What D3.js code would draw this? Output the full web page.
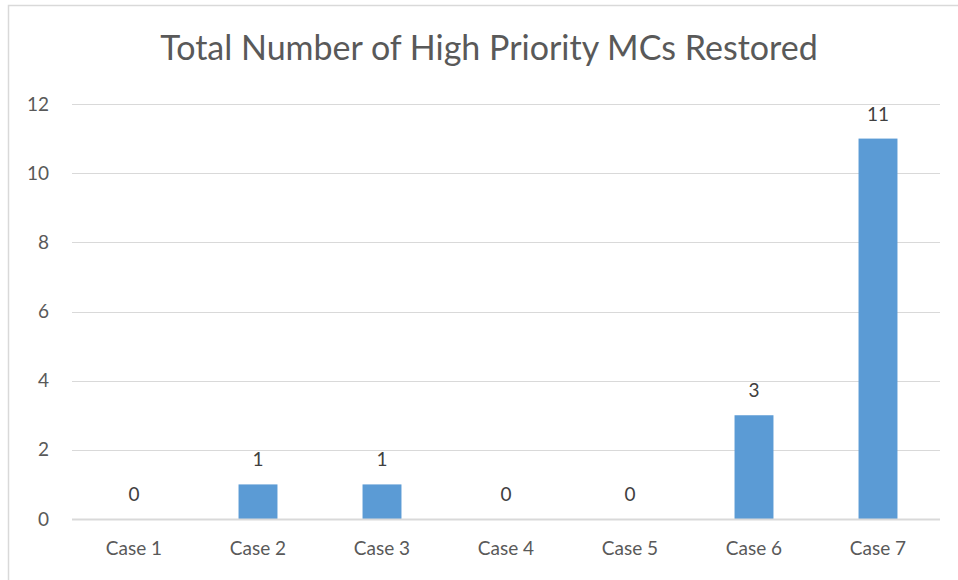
<!DOCTYPE html>
<html>
<head>
<meta charset="utf-8">
<script src="https://cdn.jsdelivr.net/npm/d3@7"></script>
<style>
  html, body { margin: 0; padding: 0; background: #fff; }
  svg { display: block; font-family: Lato, "Open Sans", sans-serif; }
</style>
</head>
<body>
<svg id="chart" width="958" height="580"></svg>
<script>
// Data
const categories = ["Case 1", "Case 2", "Case 3", "Case 4", "Case 5", "Case 6", "Case 7"];
const restored = [0, 1, 1, 0, 0, 3, 11];
const yTicks = [0, 2, 4, 6, 8, 10, 12];
const chartTitle = "Total Number of High Priority MCs Restored";

const svg = d3.select("#chart");
const W = 958, H = 580;
const plot = { left: 72, right: 940, top: 104, bottom: 519 };
const labelFont = "19px";

// Outer chart frame (top and left edges visible within the canvas)
svg.append("path")
  .attr("d", `M8.5,${H} L8.5,5.5 L${W},5.5`)
  .attr("fill", "none")
  .attr("stroke", "#d9d9d9")
  .attr("stroke-width", 1.5);

const x = d3.scaleBand()
  .domain(categories)
  .range([plot.left, plot.right])
  .paddingInner(0.686)
  .paddingOuter(0.343);

const y = d3.scaleLinear()
  .domain([0, 12])
  .range([plot.bottom, plot.top]);

// Horizontal gridlines
svg.append("g")
  .selectAll("line")
  .data(yTicks.filter(d => d !== 0))
  .join("line")
  .attr("x1", plot.left)
  .attr("x2", plot.right)
  .attr("y1", d => Math.round(y(d)) + 0.5)
  .attr("y2", d => Math.round(y(d)) + 0.5)
  .attr("stroke", "#d9d9d9")
  .attr("stroke-width", 1.2);

// Y axis labels
const yAxis = d3.axisLeft(y).tickValues(yTicks).tickSize(0).tickPadding(0);
const yg = svg.append("g")
  .attr("transform", `translate(${plot.left - 23},0)`)
  .call(yAxis);
yg.select(".domain").remove();
yg.selectAll("text")
  .attr("fill", "#595959")
  .style("font-size", labelFont)
  .style("font-family", "Lato, 'Open Sans', sans-serif");

// Bars
svg.append("g")
  .selectAll("rect")
  .data(restored)
  .join("rect")
  .attr("x", (d, i) => x(categories[i]))
  .attr("width", x.bandwidth())
  .attr("y", d => y(d))
  .attr("height", d => y(0) - y(d))
  .attr("fill", "#5b9bd5");

// Category axis
const xAxis = d3.axisBottom(x).tickSize(0).tickPadding(23);
const xg = svg.append("g")
  .attr("transform", `translate(0,${plot.bottom})`)
  .call(xAxis);
xg.select(".domain")
  .attr("d", `M${plot.left},0.5H${plot.right}`)
  .attr("stroke", "#d9d9d9")
  .attr("stroke-width", 2.2);
xg.selectAll("text")
  .attr("fill", "#595959")
  .style("font-size", labelFont)
  .style("font-family", "Lato, 'Open Sans', sans-serif");

// Value labels above bars
svg.append("g")
  .selectAll("text")
  .data(restored)
  .join("text")
  .attr("x", (d, i) => x(categories[i]) + x.bandwidth() / 2)
  .attr("y", d => y(d) - 18)
  .attr("text-anchor", "middle")
  .attr("fill", "#404040")
  .style("font-size", labelFont)
  .text(d => d);

// Title
svg.append("text")
  .attr("x", 489)
  .attr("y", 60)
  .attr("text-anchor", "middle")
  .attr("fill", "#595959")
  .style("font-size", "34px")
  .text(chartTitle);
</script>
</body>
</html>
